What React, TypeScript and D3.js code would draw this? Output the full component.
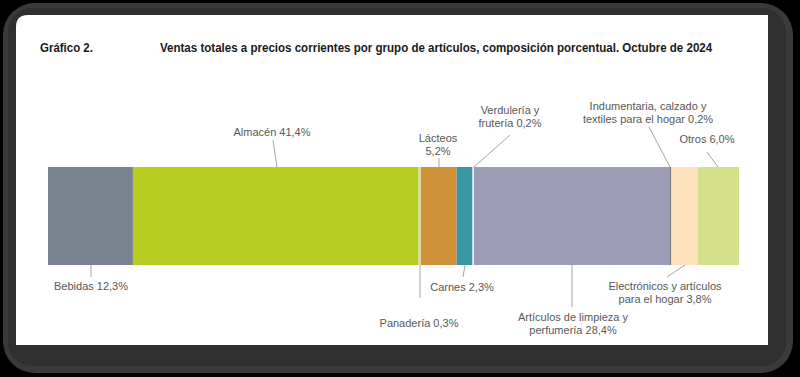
import React, { useLayoutEffect, useRef, useState } from "react";
import * as d3 from "d3";

const categories = [
  "Bebidas",
  "Almacén",
  "Panadería",
  "Lácteos",
  "Carnes",
  "Verdulería y frutería",
  "Artículos de limpieza y perfumería",
  "Indumentaria, calzado y textiles para el hogar",
  "Electrónicos y artículos para el hogar",
  "Otros",
];
const values = [12.3, 41.4, 0.3, 5.2, 2.3, 0.2, 28.4, 0.2, 3.8, 6.0];
const labelLines = [
  ["Bebidas 12,3%"],
  ["Almacén 41,4%"],
  ["Panadería 0,3%"],
  ["Lácteos", "5,2%"],
  ["Carnes 2,3%"],
  ["Verdulería y", "frutería 0,2%"],
  ["Artículos de limpieza y", "perfumería 28,4%"],
  ["Indumentaria, calzado y", "textiles para el hogar 0,2%"],
  ["Electrónicos y artículos", "para el hogar 3,8%"],
  ["Otros 6,0%"],
];
const colors = [
  "#77848f",
  "#b6cc20",
  "#dcdccc",
  "#cf9238",
  "#3a96a2",
  "#f4f4f4",
  "#9d9db8",
  "#7d7a7a",
  "#fde2bb",
  "#d5e08a",
];
const titleLeft = "Gráfico 2.";
const titleMain =
  "Ventas totales a precios corrientes por grupo de artículos, composición porcentual. Octubre de 2024";

// label layout (pixels): text center x, first line baseline y, leader end x/y, leader start x on bar edge
const labelLayout = [
  { side: "bottom", tx: 91, ty: 290, lx: 91, ly: 277, bx: 91 },
  { side: "top", tx: 272, ty: 136, lx: 273, ly: 140, bx: 277 },
  { side: "bottom", tx: 419, ty: 327, lx: 420, ly: 298, bx: 420 },
  { side: "top", tx: 438, ty: 142, lx: 439, ly: 158, bx: 439 },
  { side: "bottom", tx: 462, ty: 291, lx: 463, ly: 277, bx: 465 },
  { side: "top", tx: 510, ty: 114, lx: 510, ly: 135, bx: 474 },
  { side: "bottom", tx: 573, ty: 321, lx: 572, ly: 307, bx: 572 },
  { side: "top", tx: 648, ty: 110, lx: 649, ly: 127, bx: 670 },
  { side: "bottom", tx: 665, ty: 290, lx: 667, ly: 277, bx: 685 },
  { side: "top", tx: 707, ty: 143, lx: 707, ly: 152, bx: 718 },
];

const W = 800;
const H = 377;
const barLeft = 48;
const barRight = 739;
const barTop = 167;
const barBottom = 265;

function FitText({ x, y, width, children, ...rest }: any) {
  const ref = useRef<SVGTextElement>(null);
  const [s, setS] = useState(1);
  useLayoutEffect(() => {
    if (ref.current) {
      const w = ref.current.getComputedTextLength();
      if (w > 0) setS(width / w);
    }
  }, [width, children]);
  return (
    <g transform={`translate(${x},${y}) scale(${s},1)`}>
      <text ref={ref} x={0} y={0} {...rest}>
        {children}
      </text>
    </g>
  );
}

export default function App() {
  const total = d3.sum(values);
  const x = d3.scaleLinear().domain([0, total]).range([barLeft, barRight]);
  const starts = values.map((_, i) => d3.sum(values.slice(0, i)));

  return (
    <svg
      width={W}
      height={H}
      style={{ position: "absolute", left: 0, top: 0, display: "block" }}
      fontFamily="'Liberation Sans', Arial, sans-serif"
    >
      <rect x={0} y={0} width={W} height={H} fill="#000" />
      <rect x={3} y={3} width={790} height={370} rx={32} fill="#3a3a3a" />
      <rect x={8} y={8} width={778} height={358} rx={24} fill="#2f2f2f" />
      <path d={`M16,27 Q16,15 28,15 L768,15 L768,345 L16,345 Z`} fill="#ffffff" />

      <FitText x={40} y={52} width={53} fontSize={13.5} fontWeight="bold" fill="#1a1a1a">
        {titleLeft}
      </FitText>
      <FitText x={160} y={52} width={553} fontSize={13.5} fontWeight="bold" fill="#1a1a1a">
        {titleMain}
      </FitText>

      {values.map((v, i) => (
        <rect
          key={categories[i]}
          x={x(starts[i])}
          y={barTop}
          width={Math.max(x(starts[i] + v) - x(starts[i]), 0)}
          height={barBottom - barTop}
          fill={colors[i]}
        />
      ))}

      {labelLayout.map((l, i) => {
        const bx = Math.min(Math.max(l.bx, x(starts[i])), x(starts[i] + values[i]) + 1);
        const by = l.side === "top" ? barTop : barBottom;
        return (
          <g key={"lab" + i}>
            <line x1={bx} y1={by} x2={l.lx} y2={l.ly} stroke="#a6a6a6" strokeWidth={1} />
            {labelLines[i].map((t, j) => (
              <text key={j} x={l.tx} y={l.ty + j * 12.5} fontSize={11} fill="#585858" textAnchor="middle">
                {t}
              </text>
            ))}
          </g>
        );
      })}
    </svg>
  );
}
